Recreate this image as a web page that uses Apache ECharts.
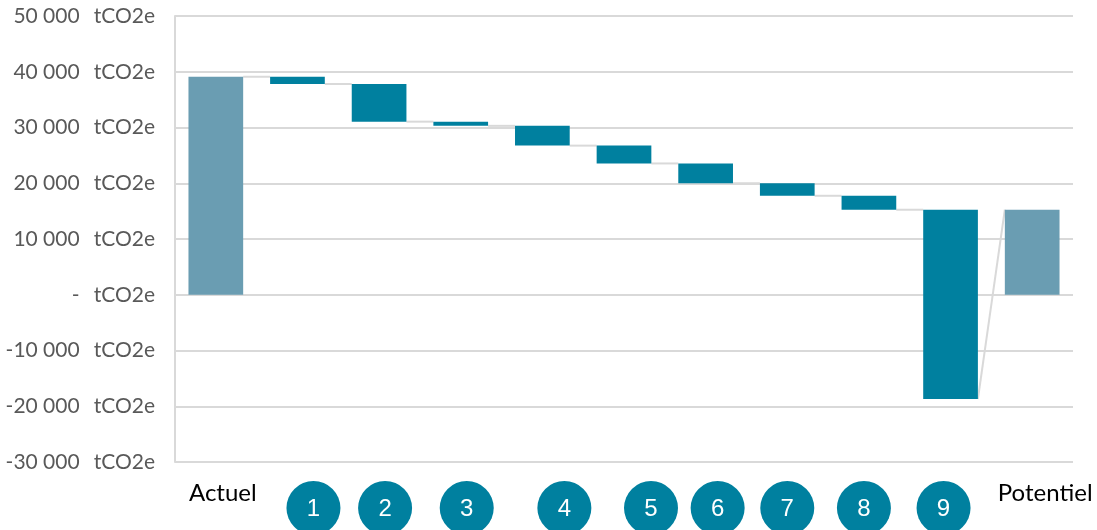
<!DOCTYPE html>
<html>
<head>
<meta charset="utf-8">
<script src="https://cdn.jsdelivr.net/npm/echarts@6/dist/echarts.min.js"></script>
<style>
  html, body { margin: 0; padding: 0; background: #ffffff; }
  #chart { width: 1097px; height: 530px; }
</style>
</head>
<body>
<div id="chart"></div>
<script>
// Emission levels (tCO2e): current footprint, then the level after each action, then the potential.
const categories = ['Actuel', '1', '2', '3', '4', '5', '6', '7', '8', '9', 'Potentiel'];
const actuel = 39100;
const levelsAfterAction = [37800, 31050, 30300, 26750, 23550, 20000, 17750, 15250, -18700];
const potentiel = 15250;

// y-axis ticks
const yMin = -30000;
const yMax = 50000;
const yStep = 10000;

// Horizontal nudges of the captions under each category (px)
const captionOffsets = [7, 16, 6, 6, 22, 27, 12, 0, -5, -7, 13];

const TOTAL_COLOR = '#6A9DB2';
const STEP_COLOR = '#00809F';
const LINK_COLOR = '#D9D9D9';

// Build [index, low, high, exitLevel, entryLevel, isTotal]
const bars = [];
bars.push([0, 0, actuel, actuel, actuel, 1]);
let prev = actuel;
levelsAfterAction.forEach((lvl, i) => {
  bars.push([i + 1, Math.min(prev, lvl), Math.max(prev, lvl), lvl, prev, 0]);
  prev = lvl;
});
bars.push([categories.length - 1, 0, potentiel, potentiel, potentiel, 1]);

function fmt(v) {
  if (v === 0) return '-';
  const s = Math.abs(v).toString().replace(/\B(?=(\d{3})+(?!\d))/g, ' ');
  return (v < 0 ? '-' : '') + s;
}

const chart = echarts.init(document.getElementById('chart'));

const BAR_RATIO = 0.67;

chart.setOption({
  animation: false,
  grid: { left: 175, right: 24, top: 16, bottom: 68, containLabel: false },
  xAxis: {
    type: 'category',
    data: categories,
    axisLine: { show: false },
    axisTick: { show: false },
    axisLabel: { show: false },
    splitLine: { show: false }
  },
  yAxis: {
    type: 'value',
    min: yMin,
    max: yMax,
    interval: yStep,
    axisLine: { show: true, lineStyle: { color: LINK_COLOR, width: 2 } },
    axisTick: { show: false },
    splitLine: { lineStyle: { color: LINK_COLOR, width: 2 } },
    axisLabel: {
      margin: 20,
      formatter: v => '{n|' + fmt(v) + '}{u|tCO2e}',
      rich: {
        n: { fontFamily: 'Lato', fontSize: 21, color: '#595959' },
        u: { fontFamily: 'Lato', fontSize: 21, color: '#595959', padding: [0, 0, 0, 14] }
      }
    }
  },
  series: [
    {
      // connector lines between consecutive bars
      type: 'custom',
      z: 1,
      data: bars,
      renderItem: function (params, api) {
        const idx = api.value(0);
        if (idx >= categories.length - 1) return null;
        const band = api.size([1, 0])[0];
        const half = band * BAR_RATIO / 2;
        const next = bars[idx + 1];
        const p1 = api.coord([idx, api.value(3)]);
        const p2 = api.coord([idx + 1, next[4]]);
        return {
          type: 'line',
          shape: { x1: p1[0] + half, y1: p1[1], x2: p2[0] - half, y2: p2[1] },
          style: { stroke: LINK_COLOR, lineWidth: 2 }
        };
      }
    },
    {
      type: 'custom',
      z: 2,
      data: bars,
      renderItem: function (params, api) {
        const idx = api.value(0);
        const band = api.size([1, 0])[0];
        const w = band * BAR_RATIO;
        const top = api.coord([idx, api.value(2)]);
        const bottom = api.coord([idx, api.value(1)]);
        return {
          type: 'rect',
          shape: { x: top[0] - w / 2, y: top[1], width: w, height: bottom[1] - top[1] },
          style: { fill: api.value(5) ? TOTAL_COLOR : STEP_COLOR }
        };
      }
    }
  ]
});

// Category captions: text for the totals, numbered badges for the actions
const graphics = [];
categories.forEach((c, i) => {
  const x = chart.convertToPixel({ xAxisIndex: 0 }, i) + captionOffsets[i];
  if (i === 0 || i === categories.length - 1) {
    graphics.push({
      type: 'text',
      x: x,
      y: 493,
      style: {
        text: c,
        fontFamily: 'Lato',
        fontSize: 24,
        fill: '#000000',
        align: 'center',
        verticalAlign: 'middle'
      }
    });
  } else {
    graphics.push({
      type: 'circle',
      shape: { cx: x, cy: 508, r: 27 },
      style: { fill: STEP_COLOR }
    });
    graphics.push({
      type: 'text',
      x: x,
      y: 509,
      style: {
        text: c,
        fontFamily: 'Liberation Sans',
        fontSize: 24,
        fill: '#ffffff',
        align: 'center',
        verticalAlign: 'middle'
      }
    });
  }
});
chart.setOption({ graphic: graphics });
</script>
</body>
</html>
